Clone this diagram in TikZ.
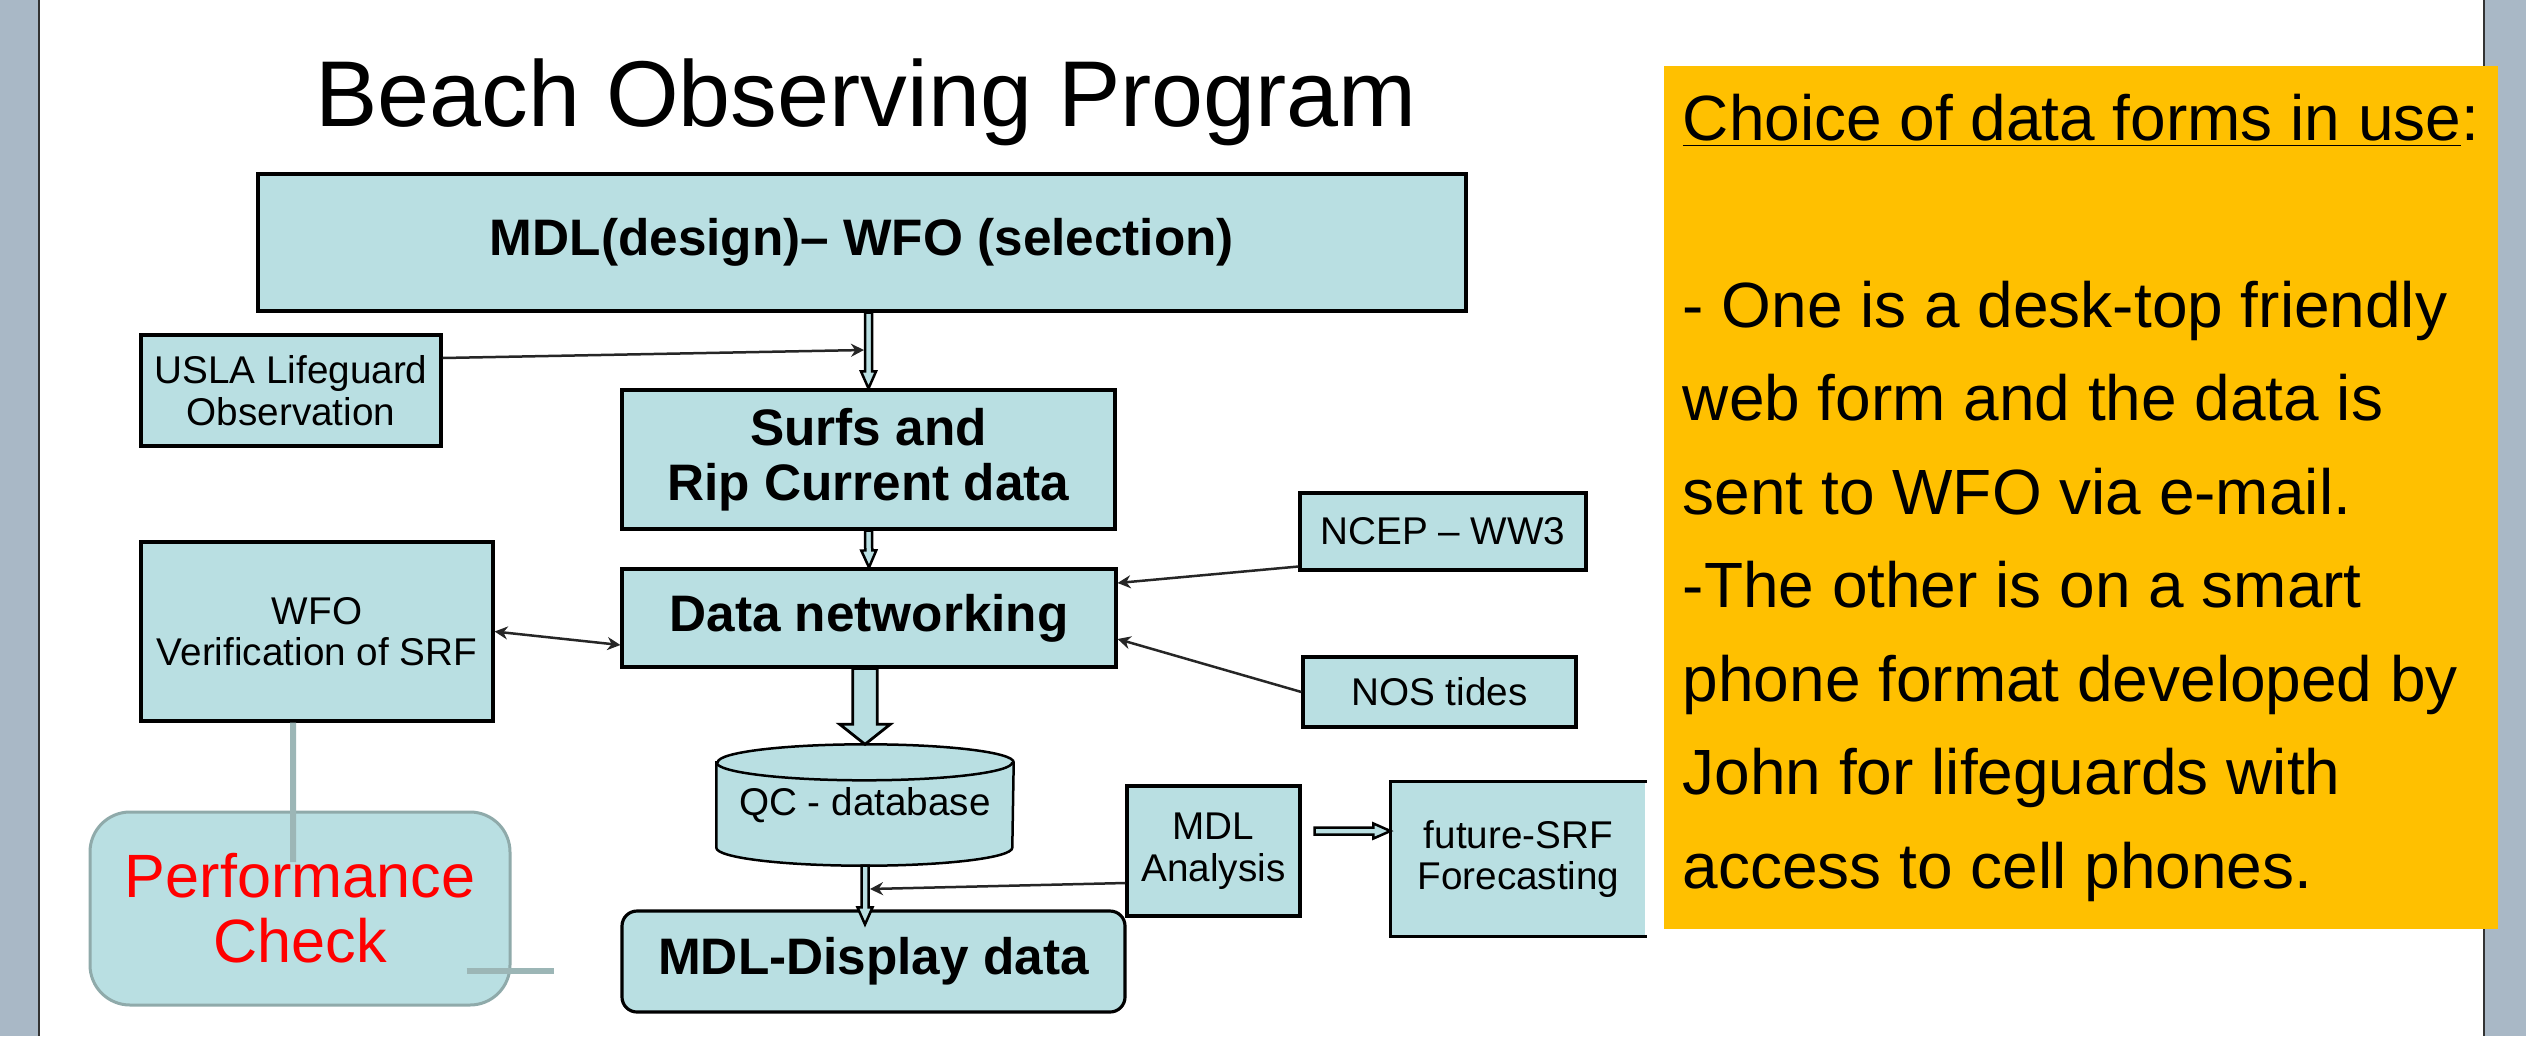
\documentclass[tikz,border=0pt]{standalone}
\usepackage{fontspec}
\setmainfont{Liberation Sans}
\usetikzlibrary{positioning,calc,arrows.meta,backgrounds}

\definecolor{boxblue}{RGB}{185,223,226}
\definecolor{stripgray}{RGB}{169,184,198}
\definecolor{noteorange}{RGB}{255,192,0}
\definecolor{perfborder}{RGB}{143,170,170}
\definecolor{perfline}{RGB}{156,182,182}

\begin{document}
\begin{tikzpicture}[
    box/.style={draw, line width=0.9pt, fill=boxblue, inner sep=0pt, align=center},
    bigbox/.style={box, font=\fontsize{14.6}{15.6}\selectfont\bfseries},
    smallbox/.style={box, font=\fontsize{11}{11.8}\selectfont},
    dbstore/.style={inner sep=0pt, font=\fontsize{11}{11.8}\selectfont},
    perfbox/.style={draw=perfborder, line width=0.03cm, fill=boxblue, rounded corners=0.4cm, align=center, text=red, font=\fontsize{17.4}{18.5}\selectfont},
    note/.style={fill=noteorange, align=left, inner sep=0pt, font=\fontsize{18.2}{26.6}\selectfont},
    arrow/.style={-{Stealth[length=0.13cm,width=0.13cm]}, line width=0.025cm, black!85},
    twoway/.style={arrow, {Stealth[length=0.13cm,width=0.13cm]}-{Stealth[length=0.13cm,width=0.13cm]}},
    hollow/.style n args={3}{line width=0.025cm, fill=boxblue, to path={
        ($(\tikztostart)!#1!90:(\tikztotarget)$)
        -- ($(\tikztotarget)!#3!(\tikztostart)!#1!90:(\tikztotarget)$)
        -- ($(\tikztotarget)!#3!(\tikztostart)!#2!90:(\tikztotarget)$)
        -- (\tikztotarget)
        -- ($(\tikztotarget)!#3!(\tikztostart)!#2!-90:(\tikztotarget)$)
        -- ($(\tikztotarget)!#3!(\tikztostart)!#1!-90:(\tikztotarget)$)
        -- ($(\tikztostart)!#1!-90:(\tikztotarget)$)
        -- cycle}},
    grayline/.style={line width=0.06cm, perfline}
]

\useasboundingbox (0,0) rectangle (25.26,-10.36);
\begin{scope}[on background layer]
\fill[white] (0,0) rectangle (25.26,-10.36);
\end{scope}

% Side strips
\fill[stripgray] (0,0) rectangle (0.38,-10.36);
\draw[line width=0.02cm, black!80] (0.39,0) -- (0.39,-10.36);
\fill[stripgray] (24.84,0) rectangle (25.26,-10.36);
\draw[line width=0.02cm, black!80] (24.84,0) -- (24.84,-10.36);

% Title
\node[font=\fontsize{26.6}{30}\selectfont, anchor=base] (title) at (8.66,-1.26) {Beach Observing Program};

% Boxes
\node[bigbox, minimum width=12.08cm, minimum height=1.37cm] (mdl) at (8.62,-2.425) {MDL(design)-- WFO (selection)};
\node[smallbox, minimum width=3.00cm, minimum height=1.11cm] (usla) at (2.91,-3.905) {USLA Lifeguard\\Observation};
\node[bigbox, minimum width=4.93cm, minimum height=1.39cm] (surfs) at (8.685,-4.595) {Surfs and\\Rip Current data};
\node[bigbox, minimum width=4.94cm, minimum height=0.98cm] (datanet) at (8.69,-6.18) {Data networking};
\node[smallbox, minimum width=3.52cm, minimum height=1.79cm] (wfo) at (3.17,-6.315) {WFO\\Verification of SRF};
\node[smallbox, minimum width=2.86cm, minimum height=0.77cm] (ncep) at (14.43,-5.315) {NCEP -- WW3};
\node[smallbox, minimum width=2.73cm, minimum height=0.70cm] (nos) at (14.395,-6.92) {NOS tides};
\node[dbstore, minimum width=2.96cm, minimum height=1.20cm] (qc) at (8.65,-8.05) {QC - database};
\node[bigbox, rounded corners=0.15cm, minimum width=5.03cm, minimum height=1.01cm] (disp) at (8.735,-9.615) {MDL-Display data};
\node[smallbox, minimum width=1.73cm, minimum height=1.30cm] (anal) at (12.135,-8.51) {MDL\\Analysis};
\node[smallbox, draw=none, minimum width=2.53cm, minimum height=1.52cm] (fsrf) at (15.185,-8.59) {future-SRF\\Forecasting};
\draw[line width=0.9pt] (fsrf.north east) -- (fsrf.north west) -- (fsrf.south west) -- (fsrf.south east);
\node[perfbox, minimum width=4.20cm, minimum height=1.93cm] (perf) at (3.00,-9.085) {Performance\\Check};

% Database drum
\begin{scope}[on background layer]
\draw[line width=0.025cm, fill=boxblue] ([yshift=-0.18cm]qc.north west) -- ([yshift=0.18cm]qc.south west)
    arc[start angle=180, end angle=360, x radius=1.48cm, y radius=0.18cm]
    -- ([yshift=-0.18cm]qc.north east)
    arc[start angle=0, end angle=180, x radius=1.48cm, y radius=0.18cm] -- cycle;
\draw[line width=0.025cm] ([yshift=-0.18cm]qc.north west) arc[start angle=180, end angle=360, x radius=1.48cm, y radius=0.18cm];
\end{scope}

% Note
\node[note, minimum width=8.34cm, minimum height=8.63cm] (choice) at (20.81,-4.975) {%
    \underline{Choice of data forms in use}:\\[26.6pt]
    - One is a desk-top friendly\\
    web form and the data is\\
    sent to WFO via e-mail.\\
    -The other is on a smart\\
    phone format developed by\\
    John for lifeguards with\\
    access to cell phones.};

% Connections
\coordinate (uslain) at (8.64,-3.50);
\coordinate (analin) at (8.70,-8.89);
\coordinate (perfin) at (2.93,-8.62);
\coordinate (perfout) at (5.54,-9.71);

\draw[hollow={0.035cm}{0.075cm}{0.17cm}] (surfs.north |- mdl.south) to (surfs.north);
\draw[hollow={0.035cm}{0.075cm}{0.17cm}] (surfs.south) to (datanet.north);
\draw[hollow={0.1225cm}{0.2525cm}{0.20cm}, line width=0.028cm] (qc.north |- datanet.south) to (qc.north);
\draw[hollow={0.035cm}{0.075cm}{0.17cm}] (qc.south) to ([yshift=-0.15cm]disp.north -| qc.south);
\draw[hollow={0.035cm}{0.075cm}{0.17cm}] ([shift={(0.13,0.2)}]anal.east) to ([yshift=0.2cm]anal.east -| fsrf.west);

\draw[arrow] ([yshift=0.325cm]usla.east) -- (uslain);
\draw[arrow] ([yshift=-0.35cm]ncep.west) -- ([yshift=0.35cm]datanet.east);
\draw[arrow] (nos.west) -- ([yshift=-0.21cm]datanet.east);
\draw[twoway] (wfo.east) -- ([yshift=-0.27cm]datanet.west);
\draw[arrow] ([yshift=-0.32cm]anal.west) -- (analin);

\draw[grayline] ([xshift=-0.24cm]wfo.south) -- (perfin);
\draw[grayline] ($(perf.east |- perfout)+(-0.45,0)$) -- (perfout);

\end{tikzpicture}
\end{document}
